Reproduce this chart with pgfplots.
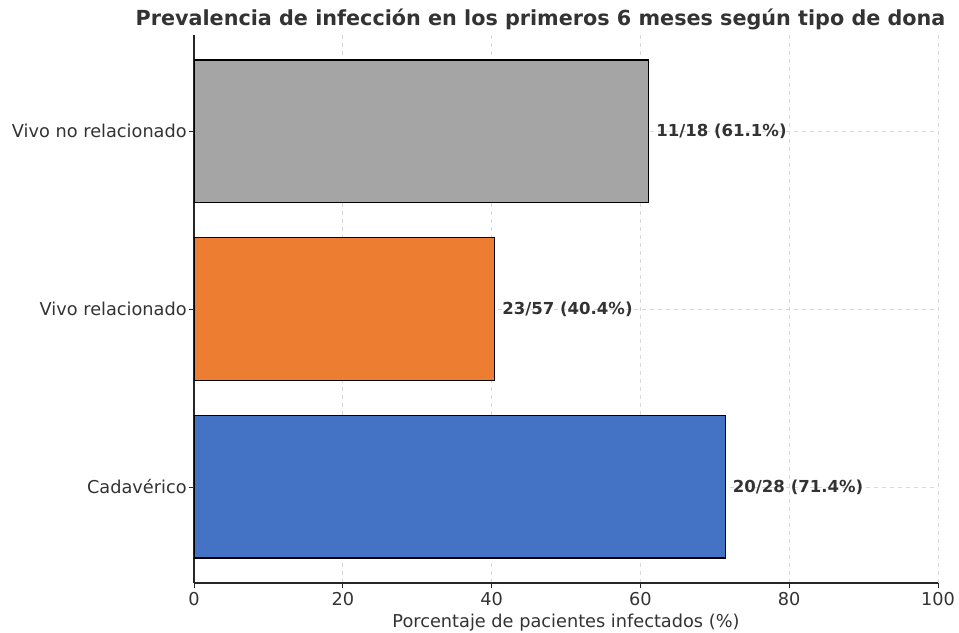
\documentclass[border=0pt]{standalone}
\usepackage{fontspec}
\setmainfont{DejaVu Sans}
\usepackage{pgfplots}
\pgfplotsset{compat=1.18}
\definecolor{cblue}{HTML}{4472C4}
\definecolor{corange}{HTML}{ED7D31}
\definecolor{cgray}{HTML}{A5A5A5}
\definecolor{txt}{HTML}{333333}
\definecolor{gridc}{HTML}{D8D8D8}
\begin{document}
\begin{tikzpicture}
\begin{axis}[
  at={(145.5pt,36.75pt)}, anchor=south west,
  scale only axis, width=558pt, height=411pt,
  xmin=0, xmax=100, ymin=-0.54, ymax=2.54,
  axis x line*=bottom, axis y line*=left,
  axis line style={line width=0.9pt, color=black!85},
  xtick={0,20,40,60,80,100},
  ytick={0,1,2},
  yticklabels={Cadavérico, Vivo relacionado, Vivo no relacionado},
  tick align=outside, major tick length=3.75pt,
  tick style={line width=0.6pt, color=black!85},
  xmajorgrids, ymajorgrids,
  grid style={dashed, color=gridc, line width=0.5pt},
  ticklabel style={font=\fontsize{13.3}{15}\selectfont, text=txt},
  yticklabel style={xshift=1.8pt},
  /pgf/number format/assume math mode=true,
  xlabel={Porcentaje de pacientes infectados (\%)},
  xlabel style={font=\fontsize{13.3}{15}\selectfont, text=txt, yshift=1pt},
  xbar, bar width=0.8, bar shift=0,
  point meta=explicit symbolic,
  nodes near coords,
  nodes near coords style={anchor=west, xshift=2pt, font=\fontsize{12.4}{14}\bfseries\selectfont, text=txt},
]
\addplot[fill=cblue, draw=black, line width=0.9pt] coordinates {(71.4,0) [20/28 (71.4\%)]};
\addplot[fill=corange, draw=black, line width=0.9pt] coordinates {(40.4,1) [23/57 (40.4\%)]};
\addplot[fill=cgray, draw=black, line width=0.9pt] coordinates {(61.1,2) [11/18 (61.1\%)]};
\end{axis}
\node[anchor=base west, inner sep=0pt, text=txt, font=\fontsize{15.55}{18}\bfseries\selectfont] at (101.5pt,455pt) {Prevalencia de infección en los primeros 6 meses según tipo de dona};
\pgfresetboundingbox
\useasboundingbox (0,0) rectangle (719.25pt,474pt);
\end{tikzpicture}
\end{document}
